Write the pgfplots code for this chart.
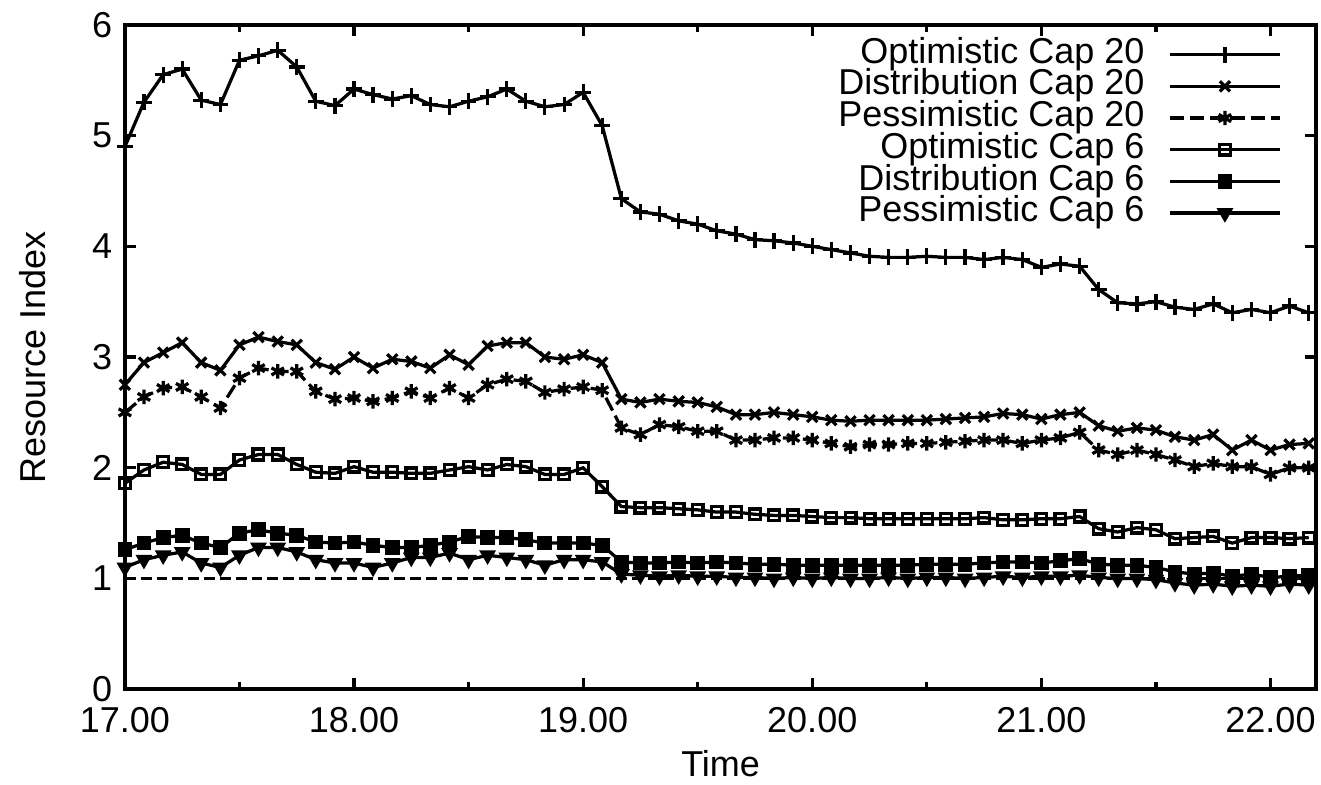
\documentclass[border=0pt]{standalone}
\usepackage{fontspec}
\setmainfont{Liberation Sans}
\usepackage{pgfplots}
\usepackage{pgfplotstable}
\pgfplotsset{compat=1.18}
\usetikzlibrary{calc}

% time in hours (5 minute steps), resource index per strategy
\pgfplotstableread{
t      o20  d20  p20  o6   d6   p6
17.000 4.90 2.75 2.50 1.86 1.26 1.10
17.083 5.30 2.95 2.64 1.98 1.32 1.17
17.167 5.55 3.04 2.72 2.05 1.37 1.21
17.250 5.60 3.13 2.73 2.03 1.39 1.24
17.333 5.32 2.95 2.64 1.94 1.32 1.14
17.417 5.28 2.88 2.54 1.94 1.28 1.10
17.500 5.68 3.11 2.81 2.07 1.41 1.21
17.583 5.72 3.18 2.90 2.12 1.44 1.28
17.667 5.77 3.14 2.87 2.12 1.41 1.28
17.750 5.62 3.11 2.87 2.03 1.39 1.24
17.833 5.31 2.95 2.69 1.96 1.33 1.17
17.917 5.27 2.89 2.62 1.95 1.32 1.14
18.000 5.42 3.00 2.63 2.01 1.33 1.14
18.083 5.37 2.90 2.60 1.96 1.30 1.10
18.167 5.33 2.98 2.63 1.96 1.28 1.14
18.250 5.36 2.96 2.69 1.95 1.28 1.19
18.333 5.28 2.90 2.63 1.95 1.30 1.19
18.417 5.26 3.02 2.72 1.98 1.33 1.23
18.500 5.31 2.93 2.63 2.01 1.38 1.17
18.583 5.35 3.10 2.75 1.98 1.37 1.21
18.667 5.42 3.13 2.80 2.03 1.37 1.19
18.750 5.31 3.13 2.78 2.01 1.35 1.17
18.833 5.26 3.00 2.68 1.94 1.32 1.12
18.917 5.28 2.98 2.71 1.94 1.32 1.17
19.000 5.39 3.02 2.73 2.00 1.32 1.17
19.083 5.09 2.95 2.70 1.83 1.30 1.15
19.167 4.43 2.62 2.36 1.65 1.15 1.04
19.250 4.31 2.59 2.30 1.64 1.14 1.03
19.333 4.29 2.62 2.39 1.64 1.14 1.02
19.417 4.23 2.60 2.37 1.63 1.15 1.03
19.500 4.20 2.59 2.33 1.62 1.14 1.02
19.583 4.14 2.55 2.33 1.60 1.15 1.02
19.667 4.11 2.48 2.25 1.60 1.14 1.01
19.750 4.06 2.48 2.25 1.58 1.13 1.01
19.833 4.05 2.50 2.27 1.57 1.13 1.00
19.917 4.03 2.48 2.27 1.57 1.12 1.01
20.000 4.00 2.46 2.25 1.56 1.12 1.00
20.083 3.97 2.43 2.22 1.55 1.12 1.01
20.167 3.94 2.42 2.19 1.55 1.12 1.00
20.250 3.91 2.43 2.21 1.54 1.12 1.00
20.333 3.90 2.43 2.21 1.54 1.12 1.01
20.417 3.90 2.43 2.22 1.54 1.12 1.00
20.500 3.91 2.43 2.22 1.54 1.13 1.01
20.583 3.90 2.44 2.23 1.54 1.13 1.01
20.667 3.90 2.45 2.24 1.54 1.13 1.00
20.750 3.88 2.46 2.25 1.55 1.14 1.01
20.833 3.90 2.49 2.25 1.53 1.15 1.02
20.917 3.88 2.48 2.22 1.53 1.15 1.01
21.000 3.81 2.44 2.25 1.54 1.14 1.02
21.083 3.84 2.48 2.27 1.54 1.16 1.02
21.167 3.82 2.50 2.32 1.56 1.18 1.03
21.250 3.61 2.38 2.16 1.45 1.13 1.01
21.333 3.49 2.33 2.12 1.42 1.12 1.00
21.417 3.48 2.36 2.16 1.46 1.12 1.00
21.500 3.50 2.34 2.12 1.44 1.10 0.99
21.583 3.45 2.28 2.07 1.36 1.06 0.96
21.667 3.43 2.25 2.01 1.37 1.04 0.94
21.750 3.48 2.30 2.04 1.38 1.05 0.95
21.833 3.40 2.16 2.01 1.32 1.02 0.93
21.917 3.43 2.25 2.01 1.37 1.04 0.94
22.000 3.40 2.16 1.94 1.37 1.01 0.93
22.083 3.46 2.21 2.00 1.36 1.02 0.95
22.167 3.40 2.22 2.00 1.37 1.03 0.94
}\resdata

\begin{document}
\begin{tikzpicture}
\begin{axis}[
  scale only axis,
  width=331pt, height=184.6pt,
  xmin=17, xmax=22.2, ymin=0, ymax=6,
  xtick={17,18,19,20,21,22},
  xticklabels={17.00,18.00,19.00,20.00,21.00,22.00},
  minor x tick num=1,
  ytick={0,1,2,3,4,5,6},
  /pgf/number format/assume math mode=true,
  tick align=inside,
  major tick length=3.2pt, minor tick length=2pt,
  every tick/.style={black,line width=0.9pt},
  axis line style={line width=1.1pt},
  xticklabel style={yshift=-1.5pt},
  xlabel={Time}, ylabel={Resource Index},
  xlabel style={yshift=2pt},
  ylabel style={yshift=5.9pt},
  legend cell align=right,
  legend plot pos=right,
  legend image code/.code={%
    \path (0pt,0pt);
    \draw[mark repeat=2,mark phase=2,#1]
      plot coordinates {(6.6pt,0pt) (21.9pt,0pt) (37.2pt,0pt)};},
  legend style={draw=none, fill=none, at={(rel axis cs:0.9715,0.98)},
    anchor=north east, inner sep=0pt, row sep=0pt,
    nodes={inner sep=0pt, text height=6.8pt, text depth=2pt}},
  every axis plot/.append style={black, line width=0.9pt},
]
\addplot[dash pattern=on 3pt off 1.4pt, forget plot] coordinates {(17,1) (22.2,1)};
\addplot[mark=+, mark size=2.2pt] table[x=t,y=o20] \resdata;
\addlegendentry{Optimistic Cap 20}
\addplot[mark=x, mark size=2pt] table[x=t,y=d20] \resdata;
\addlegendentry{Distribution Cap 20}
\addplot[dash pattern=on 4pt off 1.6pt, mark=asterisk, mark size=2pt, mark options={solid}] table[x=t,y=p20] \resdata;
\addlegendentry{Pessimistic Cap 20}
\addplot[mark=square, mark size=1.5pt, mark options={fill=white}] table[x=t,y=o6] \resdata;
\addlegendentry{Optimistic Cap 6}
\addplot[mark=square*, mark size=1.6pt] table[x=t,y=d6] \resdata;
\addlegendentry{Distribution Cap 6}
\addplot[mark=triangle*, mark size=1.8pt, mark options={rotate=180}] table[x=t,y=p6] \resdata;
\addlegendentry{Pessimistic Cap 6}
\end{axis}
\pgfresetboundingbox
\path[use as bounding box] ($(current axis.south west)+(-34.7pt,-26.4pt)$)
  rectangle ($(current axis.north east)+(1.3pt,6.9pt)$);
\end{tikzpicture}
\end{document}
